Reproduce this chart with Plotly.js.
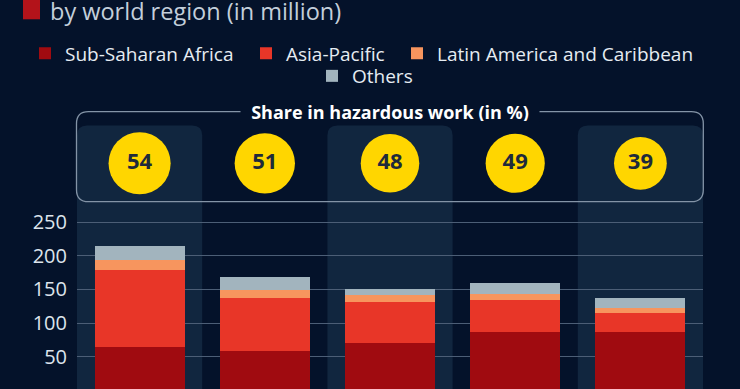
<!DOCTYPE html>
<html>
<head>
<meta charset="utf-8">
<script src="https://cdn.plot.ly/plotly-3.0.1.min.js"></script>
<style>
html,body{margin:0;padding:0;background:#04122a;overflow:hidden;}
#wrap{width:740px;height:389px;overflow:hidden;position:relative;}
#chart{width:740px;height:402px;}
</style>
</head>
<body>
<div id="wrap"><div id="chart"></div></div>
<script>
// ---- data ----
const years = ['2008', '2012', '2016', '2020', '2024'];
const subSaharanAfrica = [65, 59, 70, 87, 87];
const asiaPacific = [114, 78, 62, 48, 28];
const latinAmerica = [14, 12, 10, 8, 7];
const others = [22, 19, 9, 17, 16];
const hazardShare = [54, 51, 48, 49, 39];
const yTicks = [0, 50, 100, 150, 200, 250];

// ---- geometry helpers ----
const W = 740, H = 402;
const M = {l: 77, r: 37, t: 126, b: 10};
const PW = W - M.l - M.r, PH = H - M.t - M.b;
const px = v => (v - M.l) / PW;
const py = v => (H - M.b - v) / PH;
const cx = v => v / W;
const cy = v => 1 - v / H;
const PX_PER_UNIT = 168.3 / 250;
const zeroPx = 390.4;
const yMin = -((H - M.b) - zeroPx) / PX_PER_UNIT;

const BG = '#04122a';
const BAND = '#11263f';
const FONT = '"Open Sans", "DejaVu Sans", sans-serif';

const colors = {
  ssa: '#a00b10',
  ap: '#e83628',
  lac: '#f7955e',
  oth: '#a2b4be'
};

function bar(name, y, color, legend) {
  return {
    type: 'bar', name: name, x: years, y: y,
    marker: {color: color, line: {width: 0}},
    legend: legend,
    hoverinfo: 'skip'
  };
}

const traces = [
  bar('Sub-Saharan Africa', subSaharanAfrica, colors.ssa, 'legend'),
  bar('Asia-Pacific', asiaPacific, colors.ap, 'legend2'),
  bar('Latin America and Caribbean', latinAmerica, colors.lac, 'legend3'),
  bar('Others', others, colors.oth, 'legend4'),
  {
    type: 'scatter', mode: 'markers+text', x: years,
    y: years.map(() => 0), yaxis: 'y2',
    text: hazardShare.map(String), textposition: 'middle center',
    textfont: {family: FONT, size: 22, color: '#1e2a3b', weight: 700},
    marker: {color: '#ffd600', opacity: 1, size: hazardShare.map(v => 8.45 * Math.sqrt(v)), line: {width: 0}},
    showlegend: false, cliponaxis: false, hoverinfo: 'skip'
  }
];

// bands (alternating column backgrounds with rounded top corners)
const shapes = [];
const rx = 10 / PW, ry = 10 / PH;
const bandTop = py(125.5);
for (let i = 0; i < years.length; i += 2) {
  const x0 = i / years.length, x1 = (i + 1) / years.length;
  shapes.push({
    type: 'path', xref: 'paper', yref: 'paper', layer: 'below',
    path: `M ${x0},0 L ${x0},${bandTop - ry} Q ${x0},${bandTop} ${x0 + rx},${bandTop} L ${x1 - rx},${bandTop} Q ${x1},${bandTop} ${x1},${bandTop - ry} L ${x1},0 Z`,
    fillcolor: BAND, line: {width: 0}
  });
}
// outline box around share bubbles
{
  const x0 = px(76.5), x1 = px(703.3), y0 = py(201.7), y1 = py(111.7);
  const r = 12, bx = r / PW, by = r / PH;
  shapes.push({
    type: 'path', xref: 'paper', yref: 'paper', layer: 'above',
    path: `M ${x0 + bx},${y1} L ${x1 - bx},${y1} Q ${x1},${y1} ${x1},${y1 - by} L ${x1},${y0 + by} Q ${x1},${y0} ${x1 - bx},${y0} L ${x0 + bx},${y0} Q ${x0},${y0} ${x0},${y0 + by} L ${x0},${y1 - by} Q ${x0},${y1} ${x0 + bx},${y1} Z`,
    fillcolor: 'rgba(0,0,0,0)', line: {color: '#8494a7', width: 1.3}
  });
}
// red title marker square
shapes.push({
  type: 'rect', xref: 'paper', yref: 'paper',
  x0: px(23), x1: px(40), y0: py(19.3), y1: py(-20),
  fillcolor: '#b3131a', line: {width: 0}
});

const annotations = [
  {
    xref: 'paper', yref: 'paper', x: px(48), y: py(11.2),
    xanchor: 'left', yanchor: 'middle', showarrow: false,
    text: 'by world region (in million)',
    font: {family: FONT, size: 23.5, color: '#c3cfdb'}
  },
  {
    xref: 'paper', yref: 'paper', x: 0.5, y: py(111.5),
    xanchor: 'center', yanchor: 'middle', showarrow: false,
    text: '<b>Share in hazardous work (in %)</b>',
    width: 298, height: 18, borderpad: 0, bgcolor: BG,
    font: {family: FONT, size: 18, color: '#ffffff'}
  }
];

function legendAt(textLeft, centerY) {
  return {
    orientation: 'h', xref: 'container', yref: 'container',
    x: cx(textLeft - 40), xanchor: 'left', y: cy(centerY), yanchor: 'middle',
    bgcolor: 'rgba(0,0,0,0)', borderwidth: 0, traceorder: 'normal',
    font: {family: FONT, size: 19, color: '#e6ecf2'},
    itemclick: false, itemdoubleclick: false
  };
}

const layout = {
  width: W, height: H,
  margin: M,
  paper_bgcolor: BG, plot_bgcolor: 'rgba(0,0,0,0)',
  barmode: 'stack', bargap: 0.28,
  font: {family: FONT, color: '#dde4ec'},
  xaxis: {
    type: 'category', range: [-0.5, 4.5], showgrid: false, zeroline: false,
    showline: false, ticks: '', showticklabels: false, fixedrange: true
  },
  yaxis: {
    range: [yMin, yMin + PH / PX_PER_UNIT], tickvals: yTicks, ticktext: yTicks.map(String),
    showgrid: true, gridcolor: '#4c5e76', gridwidth: 1, zeroline: false,
    showline: false, ticks: '', ticklabelstandoff: 9,
    tickfont: {family: FONT, size: 20, color: '#dde4ec'}, fixedrange: true
  },
  yaxis2: {
    domain: [py(163.3) - (1 - py(163.3)), 1], range: [-1, 1], anchor: 'x',
    visible: false, fixedrange: true
  },
  showlegend: true,
  legend: legendAt(65, 53.5),
  legend2: legendAt(286, 53.5),
  legend3: legendAt(437, 53.5),
  legend4: legendAt(352, 76),
  shapes: shapes,
  annotations: annotations,
  hovermode: false
};

Plotly.newPlot('chart', traces, layout, {displayModeBar: false, staticPlot: true});
</script>
</body>
</html>
